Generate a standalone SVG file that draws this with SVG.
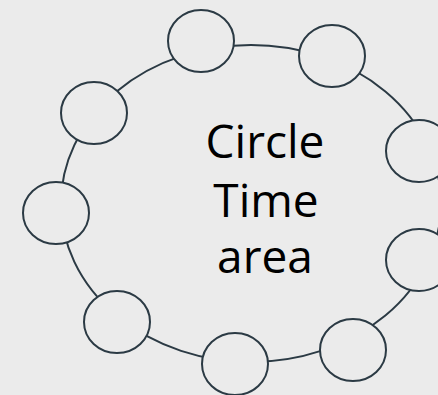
<svg xmlns="http://www.w3.org/2000/svg" width="438" height="395" viewBox="0 0 438 395">
<style>
.seat{fill:#ebebeb;stroke:#2b3a44;stroke-width:2}
.ring{fill:none;stroke:#2b3a44;stroke-width:2}
.lbl{font-family:"Open Sans","DejaVu Sans",sans-serif;font-size:46px;fill:#000;text-anchor:middle}
</style>
<rect width="438" height="395" fill="#ebebeb"/>
<g id="connectors">
<ellipse class="ring" cx="251" cy="203.5" rx="190" ry="158.5"/>
</g>
<g id="seat1"><ellipse class="seat" cx="201" cy="41" rx="33" ry="31"/></g>
<g id="seat2"><ellipse class="seat" cx="332" cy="56" rx="33" ry="31"/></g>
<g id="seat3"><ellipse class="seat" cx="419" cy="151" rx="33" ry="31"/></g>
<g id="seat4"><ellipse class="seat" cx="419" cy="260" rx="33" ry="31"/></g>
<g id="seat5"><ellipse class="seat" cx="353" cy="350" rx="33" ry="31"/></g>
<g id="seat6"><ellipse class="seat" cx="235" cy="364" rx="33" ry="31"/></g>
<g id="seat7"><ellipse class="seat" cx="117" cy="322" rx="33" ry="31"/></g>
<g id="seat8"><ellipse class="seat" cx="56" cy="213" rx="33" ry="31"/></g>
<g id="seat9"><ellipse class="seat" cx="94" cy="113" rx="33" ry="31"/></g>
<g id="center">
<text class="lbl" x="265" y="158">Circle</text>
<text class="lbl" x="266" y="217">Time</text>
<text class="lbl" x="265" y="273">area</text>
</g>
</svg>
